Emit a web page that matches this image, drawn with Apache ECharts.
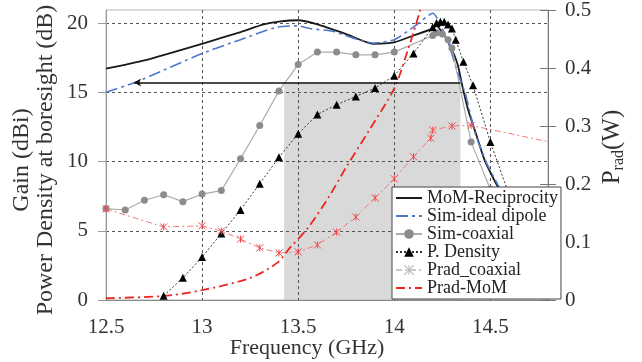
<!DOCTYPE html>
<html>
<head>
<meta charset="utf-8">
<script src="https://cdn.jsdelivr.net/npm/echarts@6/dist/echarts.min.js"></script>
<style>
  html, body { margin: 0; padding: 0; background: #fff; }
  #chart { width: 642px; height: 362px; }
</style>
</head>
<body>
<div id="chart"></div>
<script>
// ---- data (frequency in GHz) ----
const xTickLabels = [12.5, 13, 13.5, 14, 14.5];

const momFreq = [12.5, 12.7, 13.0, 13.2, 13.32, 13.4, 13.5, 13.6, 13.75, 13.89, 14.0, 14.1, 14.2, 14.22, 14.26, 14.29, 14.33, 14.355, 14.385, 14.43, 14.47, 14.53, 14.6, 14.7];
const momGain = [16.7, 17.3, 18.5, 19.35, 19.9, 20.1, 20.2, 19.9, 19.2, 18.5, 18.6, 19.1, 19.6, 19.8, 19.1, 18.4, 17.0, 15.4, 13.7, 11.8, 10.1, 8.4, 6.6, 4.2];

const dipoleFreq = [12.5, 12.65, 13.0, 13.2, 13.39, 13.5, 13.56, 13.68, 13.89, 14.0, 14.1, 14.2, 14.28, 14.33, 14.37, 14.42, 14.48, 14.54, 14.6, 14.7];
const dipoleGain = [15.0, 15.7, 17.8, 18.8, 19.7, 19.8, 19.6, 19.4, 18.55, 18.8, 19.7, 20.7, 18.6, 16.4, 14.9, 12.1, 9.9, 8.3, 6.8, 4.5];

const coaxFreq = [12.5, 12.6, 12.7, 12.8, 12.9, 13.0, 13.1, 13.2, 13.3, 13.4, 13.5, 13.6, 13.7, 13.8, 13.9, 14.0, 14.2, 14.22, 14.25, 14.28, 14.3, 14.4, 14.5, 14.6];
const coaxGain = [6.6, 6.5, 7.2, 7.6, 7.1, 7.65, 7.9, 10.2, 12.6, 15.1, 17.0, 17.9, 17.9, 17.7, 17.7, 17.9, 19.1, 19.3, 19.2, 18.8, 18.2, 11.4, 8.0, 5.0];

const densFreq = [12.8, 12.9, 13.0, 13.1, 13.2, 13.3, 13.4, 13.5, 13.6, 13.7, 13.8, 13.9, 14.0, 14.1, 14.2, 14.22, 14.24, 14.26, 14.28, 14.3, 14.32, 14.36, 14.41, 14.5, 14.6, 14.7];
const densValue = [0.3, 1.6, 3.1, 4.8, 6.5, 8.4, 10.3, 12.0, 13.4, 14.1, 14.7, 15.3, 16.2, 17.8, 19.7, 20.0, 20.1, 20.1, 19.9, 19.6, 18.8, 17.2, 15.5, 11.4, 7.5, 4.0];

const pradCoaxFreq = [12.5, 12.8, 13.0, 13.1, 13.2, 13.3, 13.4, 13.5, 13.6, 13.7, 13.8, 13.9, 14.0, 14.1, 14.19, 14.2, 14.3, 14.4, 15.0];
const pradCoaxW = [0.157, 0.126, 0.128, 0.119, 0.105, 0.090, 0.081, 0.083, 0.095, 0.117, 0.143, 0.176, 0.209, 0.247, 0.279, 0.293, 0.300, 0.301, 0.259];

const pradMomFreq = [12.5, 12.8, 13.0, 13.25, 13.39, 13.46, 13.55, 13.66, 13.75, 13.87, 14.0, 14.07, 14.135, 14.2];
const pradMomW = [0.003, 0.007, 0.017, 0.038, 0.064, 0.091, 0.124, 0.178, 0.229, 0.293, 0.365, 0.43, 0.5, 0.58];

// 3 dB band: threshold level and the frequency limits of the shaded band
const bandThreshold = 15.7;
const bandArrowStart = 12.646;
const bandEdges = [13.427, 14.344];

const legendNames = ['MoM-Reciprocity', 'Sim-ideal dipole', 'Sim-coaxial', 'P. Density', 'Prad_coaxial', 'Prad-MoM'];

// ---- helpers ----
const zip = (xs, ys) => xs.map((x, i) => [x, ys[i]]);
const FONT = 'Liberation Serif';
const starPath = 'path://M0,0L10,10M10,0L0,10M5,0L5,10';
// legend entries of plain lines: hide the default marker dot
const lineOnly = { color: 'rgba(0,0,0,0)', borderWidth: 0 };

const chart = echarts.init(document.getElementById('chart'), null, { renderer: 'canvas' });

const option = {
  animation: false,
  textStyle: { fontFamily: FONT },
  grid: {
    left: 106, right: 94, top: 10, bottom: 62,
    containLabel: false, outerBoundsMode: 'none',
    show: true, borderColor: '#b4b4b4', borderWidth: 1
  },
  legend: {
    data: [
      { name: legendNames[0], itemStyle: lineOnly },
      { name: legendNames[1], itemStyle: lineOnly },
      { name: legendNames[2] },
      { name: legendNames[3] },
      { name: legendNames[4], itemStyle: { color: 'rgba(0,0,0,0)', borderColor: '#b8b8b8', borderWidth: 1.1 }, lineStyle: { color: '#c8c8c8' } },
      { name: legendNames[5], itemStyle: lineOnly }
    ],
    orient: 'vertical',
    left: 392, top: 187,
    padding: [2, 3, 2, 3],
    itemGap: 0,
    itemWidth: 26, itemHeight: 12,
    backgroundColor: '#fff',
    borderColor: '#444', borderWidth: 1, borderRadius: 0,
    selectedMode: false,
    textStyle: { fontFamily: FONT, fontSize: 18, color: '#222', lineHeight: 18 }
  },
  xAxis: {
    type: 'value', min: 12.5, max: 14.8, interval: 0.5,
    name: 'Frequency (GHz)', nameLocation: 'middle', nameGap: 37, nameMoveOverlap: false,
    nameTextStyle: { fontFamily: FONT, fontSize: 22, color: '#333', padding: [0, 40, 0, 0] },
    axisLine: { lineStyle: { color: '#8a8a8a', width: 1 } },
    axisTick: { show: false },
    axisLabel: {
      fontFamily: FONT, fontSize: 21, color: '#333', margin: 17, showMaxLabel: false,
      formatter: v => (xTickLabels.includes(v) ? String(v) : '')
    },
    splitLine: { show: true, showMinLine: false, showMaxLine: false, lineStyle: { color: '#555', type: [3, 3], width: 1 } }
  },
  yAxis: [
    {
      type: 'value', min: 0, max: 20.94, interval: 5, position: 'left',
      name: 'Gain (dBi)\nPower Density at boresight (dB)',
      nameLocation: 'middle', nameRotate: 90, nameGap: 48, nameMoveOverlap: false,
      nameTextStyle: { fontFamily: FONT, fontSize: 24, color: '#333', lineHeight: 24, align: 'center', padding: [0, 10, 0, 0] },
      axisLine: { show: true, lineStyle: { color: '#999', width: 1 } },
      axisTick: { show: true, length: 8, lineStyle: { color: '#999' } },
      axisLabel: { fontFamily: FONT, fontSize: 21, color: '#333', margin: 18, showMaxLabel: false },
      splitLine: { show: true, showMinLine: false, showMaxLine: false, lineStyle: { color: '#555', type: [3, 3], width: 1 } }
    },
    {
      type: 'value', min: 0, max: 0.5, interval: 0.1, position: 'right',
      name: '{p|P}{s|rad}{p|(W)}', nameLocation: 'middle', nameRotate: 90, nameGap: 49, nameMoveOverlap: false,
      nameTextStyle: {
        padding: [0, 0, 0, 16],
        rich: {
          p: { fontFamily: FONT, fontSize: 25, color: '#333', lineHeight: 30 },
          s: { fontFamily: FONT, fontSize: 16, color: '#333', lineHeight: 30, verticalAlign: 'bottom' }
        }
      },
      axisLine: { show: true, lineStyle: { color: '#777', width: 1 } },
      axisTick: { show: true, length: 8, lineStyle: { color: '#777' } },
      axisLabel: { fontFamily: FONT, fontSize: 21, color: '#333', margin: 17 },
      splitLine: { show: false }
    },
    {
      // inner half of the crossing ticks on the right axis
      type: 'value', min: 0, max: 0.5, interval: 0.1, position: 'right',
      axisLine: { show: false },
      axisTick: { show: true, inside: true, length: 8, lineStyle: { color: '#777' } },
      axisLabel: { show: false },
      splitLine: { show: false }
    }
  ],
  series: [
    {
      name: legendNames[0], type: 'line', yAxisIndex: 0,
      data: zip(momFreq, momGain), smooth: 0.2, showSymbol: false, symbol: 'none',
      lineStyle: { color: '#1a1a1a', width: 1.8 }, itemStyle: { color: '#1a1a1a' },
      z: 3,
      markArea: {
        silent: true, z: -1,
        itemStyle: { color: '#d9d9d9' },
        data: [[{ coord: [bandEdges[0], 0] }, { coord: [bandEdges[1], bandThreshold] }]]
      },
      markLine: {
        silent: true, animation: false,
        lineStyle: { color: '#111', width: 1.5, type: 'solid' },
        label: { show: false },
        data: [[
          { coord: [bandArrowStart, bandThreshold], symbol: 'arrow', symbolSize: [6, 7] },
          { coord: [bandEdges[1], bandThreshold], symbol: 'none' }
        ]]
      }
    },
    {
      name: legendNames[1], type: 'line', yAxisIndex: 0,
      data: zip(dipoleFreq, dipoleGain), smooth: 0.2, showSymbol: false, symbol: 'none',
      lineStyle: { color: '#4d78cc', width: 1.6, type: [12, 4, 3, 4] }, itemStyle: { color: '#4d78cc' }
    },
    {
      name: legendNames[2], type: 'line', yAxisIndex: 0,
      data: zip(coaxFreq, coaxGain), symbol: 'circle', symbolSize: 7,
      lineStyle: { color: '#ababab', width: 1.2 }, itemStyle: { color: '#8c8c8c' }
    },
    {
      name: legendNames[3], type: 'line', yAxisIndex: 0,
      data: zip(densFreq, densValue), symbol: 'triangle', symbolSize: 8,
      lineStyle: { color: '#333', width: 1, type: [2, 2] }, itemStyle: { color: '#000' }
    },
    {
      name: legendNames[4], type: 'line', yAxisIndex: 1,
      data: zip(pradCoaxFreq, pradCoaxW), symbol: starPath, symbolSize: 7,
      lineStyle: { color: '#f47a7a', width: 1, type: [6, 3, 2, 3] },
      itemStyle: { color: 'rgba(0,0,0,0)', borderColor: '#f04848', borderWidth: 1 }
    },
    {
      name: legendNames[5], type: 'line', yAxisIndex: 1,
      data: zip(pradMomFreq, pradMomW), smooth: 0.3, showSymbol: false, symbol: 'none',
      lineStyle: { color: '#e8281f', width: 1.8, type: [9, 4, 2, 4] }, itemStyle: { color: '#e8281f' }
    }
  ]
};

chart.setOption(option);
</script>
</body>
</html>
